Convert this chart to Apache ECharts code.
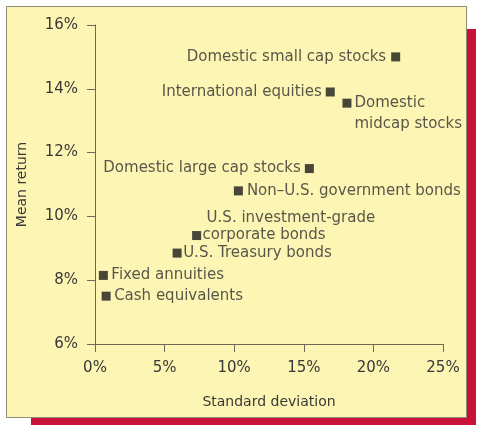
<!DOCTYPE html>
<html>
<head>
<meta charset="utf-8">
<script src="https://cdn.jsdelivr.net/npm/echarts@6/dist/echarts.min.js"></script>
<style>
html,body{margin:0;padding:0;background:#ffffff;}
#chart{width:480px;height:431px;}
</style>
</head>
<body>
<div id="chart"></div>
<script>
// Data
var names = [
  "Domestic small cap stocks",
  "International equities",
  "Domestic\nmidcap stocks",
  "Domestic large cap stocks",
  "Non\u2013U.S. government bonds",
  "U.S. investment-grade\ncorporate bonds",
  "U.S. Treasury bonds",
  "Fixed annuities",
  "Cash equivalents"
];
var stdDev = [21.6, 16.9, 18.1, 15.4, 10.3, 7.3, 5.9, 0.6, 0.8];
var meanReturn = [15.0, 13.9, 13.55, 11.5, 10.8, 9.4, 8.85, 8.15, 7.5];
var xTicks = [0, 5, 10, 15, 20, 25];
var yTicks = [6, 8, 10, 12, 14, 16];

// Label placement (style only)
var labelStyle = [
  {position: 'left', distance: 5},
  {position: 'left', distance: 4},
  {position: 'right', distance: 3, lineHeight: 21, offset: [0, 10.5]},
  {position: 'left', distance: 4},
  {position: 'right', distance: 4},
  {position: 'right', distance: 1.5, lineHeight: 17, offset: [0, -8.5], indentFirst: 4},
  {position: 'right', distance: 1.5},
  {position: 'right', distance: 3.5},
  {position: 'right', distance: 3.5}
];

var textColor = '#2e2e2e';
var pts = names.map(function (n, i) {
  var ls = labelStyle[i];
  var lab = {show: true, position: ls.position, distance: ls.distance, formatter: n};
  if (ls.lineHeight) lab.lineHeight = ls.lineHeight;
  if (ls.offset) lab.offset = ls.offset;
  if (ls.indentFirst) {
    var parts = n.split('\n');
    lab.formatter = '{a|' + parts[0] + '}\n{b|' + parts[1] + '}';
    lab.rich = {
      a: {padding: [0, 0, 0, ls.indentFirst], fontSize: 15, color: textColor, lineHeight: ls.lineHeight},
      b: {fontSize: 15, color: textColor, lineHeight: ls.lineHeight}
    };
  }
  return {name: n, value: [stdDev[i], meanReturn[i]], label: lab};
});

var chart = echarts.init(document.getElementById('chart'), null, {renderer: 'canvas'});
var axisColor = '#6e6852';
var tickText = '#383838';
var font = 'DejaVu Sans';

chart.setOption({
  backgroundColor: '#ffffff',
  animation: false,
  textStyle: {fontFamily: font},
  graphic: [
    {type: 'rect', z: -20, shape: {x: 31, y: 29, width: 445, height: 396}, style: {fill: '#c8123a'}},
    {type: 'rect', z: -10, shape: {x: 6.5, y: 6.5, width: 460, height: 411}, style: {fill: '#fcf5b4', stroke: '#8f8a78', lineWidth: 1}}
  ],
  grid: {left: 95, right: 37, top: 25, bottom: 87, containLabel: false},
  xAxis: {
    type: 'value', min: 0, max: 25, interval: 5,
    name: 'Standard deviation', nameLocation: 'middle', nameGap: 51,
    nameTextStyle: {color: tickText, fontSize: 14, fontFamily: font},
    axisLine: {show: true, onZero: false, lineStyle: {color: axisColor, width: 1}},
    axisTick: {show: true, length: 8, lineStyle: {color: axisColor}},
    axisLabel: {color: tickText, fontSize: 15, margin: 17, fontFamily: font,
      formatter: function (v) { return xTicks.indexOf(v) >= 0 ? v + '%' : ''; }},
    splitLine: {show: false}
  },
  yAxis: {
    type: 'value', min: 6, max: 16, interval: 2,
    name: 'Mean return', nameLocation: 'middle', nameGap: 66, nameRotate: 90,
    nameTextStyle: {color: tickText, fontSize: 14, fontFamily: font},
    axisLine: {show: true, onZero: false, lineStyle: {color: axisColor, width: 1}},
    axisTick: {show: true, length: 8, lineStyle: {color: axisColor}},
    axisLabel: {color: tickText, fontSize: 15, margin: 17, fontFamily: font,
      formatter: function (v) { return yTicks.indexOf(v) >= 0 ? v + '%' : ''; }},
    splitLine: {show: false}
  },
  series: [{
    type: 'scatter',
    symbol: 'rect',
    symbolSize: 9,
    itemStyle: {color: '#1a1a1a'},
    label: {color: textColor, fontSize: 15, fontFamily: font},
    emphasis: {disabled: true},
    data: pts
  }]
});
</script>
</body>
</html>
